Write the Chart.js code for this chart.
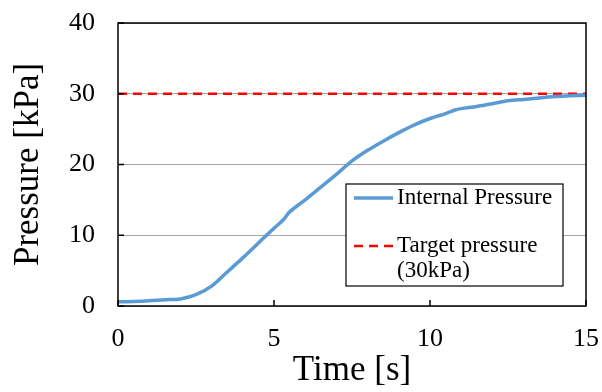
<!DOCTYPE html>
<html>
<head>
<meta charset="utf-8">
<script src="https://cdn.jsdelivr.net/npm/chart.js@4.4.0/dist/chart.umd.min.js"></script>
<style>
  html, body { margin: 0; padding: 0; background: #fff; }
  #wrap { width: 602px; height: 392px; }
</style>
</head>
<body>
<div id="wrap"><canvas id="pressureChart" width="602" height="392"></canvas></div>
<script>
const timeSec = [0, 0.5, 1, 1.5, 2, 2.5, 3, 3.5, 4, 4.5, 5, 5.3, 5.5, 6, 6.5, 7, 7.5, 8, 8.5, 9, 9.5, 10, 10.5, 10.8, 11, 11.5, 12, 12.5, 13, 13.5, 14, 14.5, 15];
const internalKPa = [0.6, 0.65, 0.75, 0.9, 1.0, 1.6, 2.8, 4.8, 6.8, 8.9, 11.0, 12.2, 13.3, 15.0, 16.8, 18.6, 20.5, 22.0, 23.3, 24.5, 25.6, 26.5, 27.2, 27.7, 27.9, 28.2, 28.6, 29.0, 29.2, 29.4, 29.6, 29.7, 29.8];
const targetTime = [0, 15];
const targetKPa = [30, 30];
const xTicks = [0, 5, 10, 15];
const yTicks = [0, 10, 20, 30, 40];

const serif = '"Liberation Serif", "Times New Roman", serif';
const toPoints = (xs, ys) => xs.map((x, i) => ({ x: x, y: ys[i] }));

// frame, inward tick marks and the boxed legend inside the plot
const framePlugin = {
  id: 'frame',
  afterDraw(chart) {
    const { ctx, chartArea: a, scales } = chart;
    ctx.save();
    ctx.strokeStyle = '#000';
    ctx.lineWidth = 1.5;
    ctx.strokeRect(a.left, a.top, a.right - a.left, a.bottom - a.top);
    ctx.beginPath();
    xTicks.forEach(v => {
      const px = scales.x.getPixelForValue(v);
      ctx.moveTo(px, a.bottom); ctx.lineTo(px, a.bottom - 6);
    });
    yTicks.forEach(v => {
      const py = scales.y.getPixelForValue(v);
      ctx.moveTo(a.left, py); ctx.lineTo(a.left + 6, py);
    });
    ctx.stroke();

    // legend box
    const bx = 346, by = 184, bw = 217, bh = 102;
    ctx.fillStyle = '#fff';
    ctx.fillRect(bx, by, bw, bh);
    ctx.lineWidth = 1.2;
    ctx.strokeStyle = '#000';
    ctx.strokeRect(bx, by, bw, bh);
    ctx.font = '23px ' + serif;
    ctx.textBaseline = 'middle';
    ctx.fillStyle = '#000';
    const rows = [198, 246];
    chart.data.datasets.forEach((ds, i) => {
      const y = rows[i];
      ctx.beginPath();
      ctx.strokeStyle = ds.borderColor;
      ctx.lineWidth = ds.borderWidth;
      ctx.setLineDash(ds.borderDash || []);
      ctx.moveTo(bx + 8, y); ctx.lineTo(bx + 47, y);
      ctx.stroke();
      ctx.setLineDash([]);
      const lines = Array.isArray(ds.label) ? ds.label : [ds.label];
      lines.forEach((t, j) => ctx.fillText(t, bx + 51, y + j * 25));
    });
    ctx.restore();
  }
};

new Chart(document.getElementById('pressureChart'), {
  type: 'scatter',
  data: {
    datasets: [{
      label: 'Internal Pressure',
      data: toPoints(timeSec, internalKPa),
      showLine: true,
      borderColor: '#5b9bd5',
      borderWidth: 3.5,
      pointRadius: 0,
      tension: 0.3
    }, {
      label: ['Target pressure', '(30kPa)'],
      data: toPoints(targetTime, targetKPa),
      showLine: true,
      borderColor: '#ff0000',
      borderWidth: 2.5,
      borderDash: [9, 6],
      pointRadius: 0
    }]
  },
  options: {
    responsive: false,
    animation: false,
    layout: { padding: { top: 23, right: 16, left: 0, bottom: 0 } },
    plugins: { legend: { display: false }, tooltip: { enabled: false } },
    scales: {
      x: {
        type: 'linear', min: 0, max: 15,
        afterBuildTicks: s => { s.ticks = xTicks.map(v => ({ value: v })); },
        afterFit: s => { s.height = 86; s.paddingLeft = 0; s.paddingRight = 0; },
        grid: { display: false, drawTicks: false },
        border: { display: false },
        ticks: { color: '#000', padding: 18, font: { family: serif, size: 26 } },
        title: { display: true, text: 'Time [s]', color: '#000', padding: { top: 0, bottom: 0 }, font: { family: serif, size: 35 } }
      },
      y: {
        min: 0, max: 40,
        afterBuildTicks: s => { s.ticks = yTicks.map(v => ({ value: v })); },
        afterFit: s => { s.width = 118; s.paddingTop = 0; s.paddingBottom = 0; },
        grid: { color: '#a6a6a6', lineWidth: 1, drawTicks: false },
        border: { display: false },
        ticks: { color: '#000', padding: 23, font: { family: serif, size: 26 } },
        title: { display: true, text: 'Pressure [kPa]', color: '#000', padding: { top: 8, bottom: 0 }, font: { family: serif, size: 35 } }
      }
    }
  },
  plugins: [framePlugin]
});
</script>
</body>
</html>
